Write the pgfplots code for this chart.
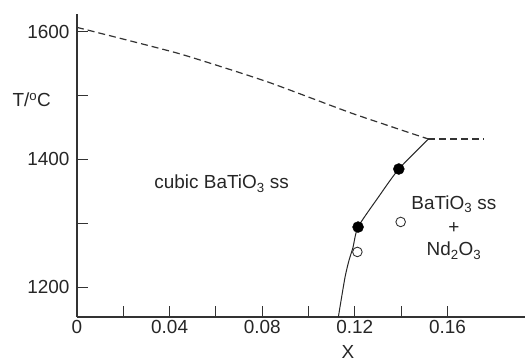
\documentclass[border=0pt]{standalone}
\usepackage{pgfplots}
\pgfplotsset{compat=1.18}
\usepackage{fontspec}
\setmainfont{Liberation Sans}
\begin{document}
\begin{tikzpicture}[x=1bp,y=1bp]
\begin{axis}[
  scale only axis,
  width=448bp, height=303bp,
  xmin=0, xmax=0.1935,
  ymin=1153, ymax=1628,
  axis x line=bottom, axis y line=left,
  axis line style={-, line width=1.3bp, black!80},
  xtick={0,0.04,0.08,0.12,0.16},
  xticklabels={0,0.04,0.08,0.12,0.16},
  minor xtick={0.02,0.06,0.10,0.14},
  ytick={1200,1400,1600},
  minor ytick={1300,1500},
  tick align=inside,
  major tick length=11bp, minor tick length=11bp,
  every tick/.style={black!80, line width=1bp},
  tick label style={font=\fontsize{19}{21}\selectfont, black!85},
  /pgf/number format/assume math mode=true,
  /pgf/number format/1000 sep={},
  xticklabel style={yshift=0bp},
  yticklabel style={xshift=-4bp},
  clip=false,
]
\coordinate (SW) at (rel axis cs:0,0);
\coordinate (NE) at (rel axis cs:1,1);
% liquidus (dashed)
\addplot[black!80, line width=1.2bp, dash pattern=on 7bp off 4bp, smooth, tension=0.3] coordinates {
  (0,1607) (0.044,1566) (0.082,1522) (0.119,1472) (0.1518,1432)
};
\addplot[black!80, line width=1.2bp, dash pattern=on 7bp off 4bp] coordinates {
  (0.1518,1432) (0.176,1432)
};
% solvus (solid)
\addplot[black!85, line width=1bp, smooth, tension=0.4] coordinates {
  (0.1129,1153) (0.1136,1169) (0.1158,1216) (0.1175,1242) (0.1192,1262) (0.1214,1294) (0.13,1340) (0.139,1385) (0.1518,1432)
};
% filled circles
\addplot[only marks, mark=*, mark size=5.5bp, black] coordinates {
  (0.1214,1294) (0.139,1385)
};
% open circles
\addplot[only marks, mark=o, mark size=4.8bp, black!80, line width=0.9bp, fill=white] coordinates {
  (0.1211,1255) (0.1398,1302)
};
\node[font=\fontsize{19}{21}\selectfont, black!85] at (axis cs:0.0625,1362) {cubic BaTiO\textsubscript{3} ss};
\node[font=\fontsize{19}{21}\selectfont, black!85] at (axis cs:0.1628,1330) {BaTiO\textsubscript{3} ss};
\node[font=\fontsize{19}{21}\selectfont, black!85, inner sep=0pt] at (axis cs:0.1628,1293) {+};
\node[font=\fontsize{19}{21}\selectfont, black!85] at (axis cs:0.1628,1257) {Nd\textsubscript{2}O\textsubscript{3}};
\node[font=\fontsize{19}{21}\selectfont, black!85, anchor=west] at (axis cs:0,1493) [xshift=-68bp] {T/\textsuperscript{o}C};
\node[font=\fontsize{19}{21}\selectfont, black!85] at (axis cs:0.117,1153) [yshift=-35bp] {X};
\end{axis}
\pgfresetboundingbox
\path ([shift={(-77bp,-46bp)}]SW) rectangle ([shift={(0bp,14bp)}]NE);
\end{tikzpicture}
\end{document}
